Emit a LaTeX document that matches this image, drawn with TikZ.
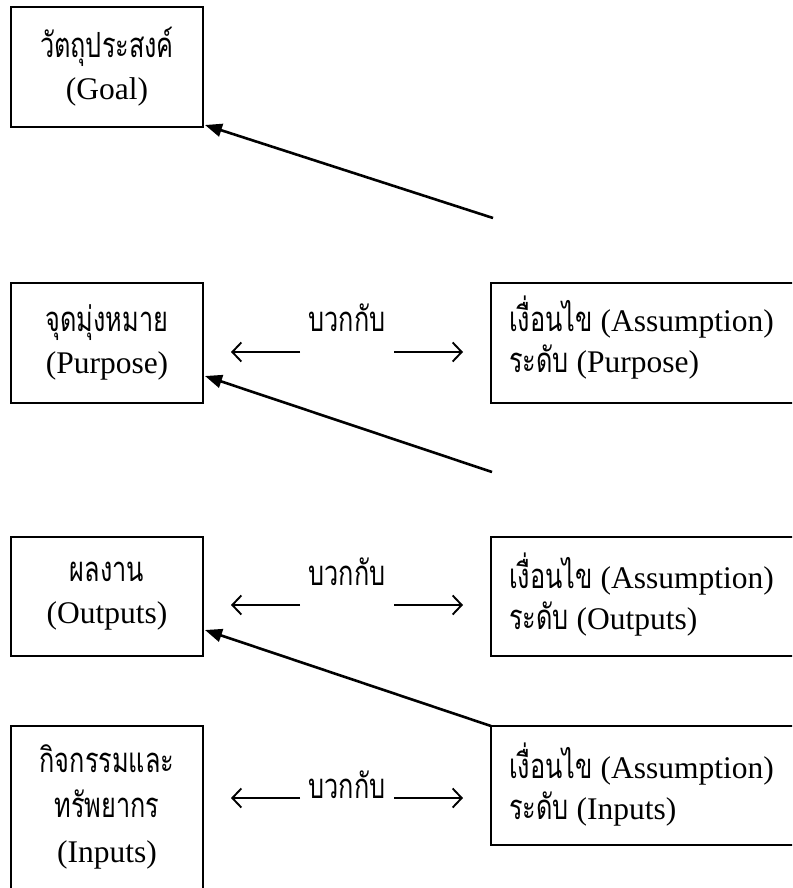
\documentclass[tikz,border=0pt]{standalone}
\usepackage{fontspec}
\setmainfont{Liberation Serif}
\newfontfamily\thai[Script=Thai,Scale=1.1,FakeStretch=0.73]{Loma}
\usetikzlibrary{arrows.meta}
\begin{document}
\begin{tikzpicture}[x=1pt,y=-1pt,
  box/.style={draw, line width=1.8pt, inner sep=0pt, outer sep=0pt, anchor=north west, minimum width=192pt},
  txt/.style={inner sep=0pt, font=\fontsize{31.5}{42}\selectfont},
  link/.style={line width=2.6pt, -{Triangle[length=17pt,width=13pt]}},
  side/.style={line width=1.9pt, -{Straight Barb[length=9pt,width=19pt,line width=1.9pt]}}]
\useasboundingbox (0,0) rectangle (792,888);
\clip (0,0) rectangle (792,888);
% left boxes
\node[box, minimum height=120pt] (goal) at (11,7) {};
\node[box, minimum height=120pt] (purpose) at (11,283) {};
\node[box, minimum height=119pt] (outputs) at (11,537) {};
\node[box, minimum height=200pt] (inputs) at (11,726) {};
% right boxes
\node[box, minimum width=330pt, minimum height=120pt] (apurpose) at (491,283) {};
\node[box, minimum width=330pt, minimum height=119pt] (aoutputs) at (491,537) {};
\node[box, minimum width=330pt, minimum height=119pt] (ainputs) at (491,726) {};
% texts
\node[txt, align=center] (goalt) at (107,67) {{\thai วัตถุประสงค์}\\(Goal)};
\node[txt, align=center] (purposet) at (107,342) {{\thai จุดมุ่งหมาย}\\(Purpose)};
\node[txt, align=center] (outputst) at (107,596) {{\thai ผลงาน}\\(Outputs)};
\node[txt, align=center, font=\fontsize{31.5}{45}\selectfont] (inputst) at (107,807) {{\thai กิจกรรมและ}\\{\thai ทรัพยากร}\\(Inputs)};
\node[txt, align=left, anchor=west, font=\fontsize{31.5}{41}\selectfont] (apurposet) at (509,338) {{\thai เงื่อนไข} (Assumption)\\{\thai ระดับ} (Purpose)};
\node[txt, align=left, anchor=west, font=\fontsize{31.5}{41}\selectfont] (aoutputst) at (509,595) {{\thai เงื่อนไข} (Assumption)\\{\thai ระดับ} (Outputs)};
\node[txt, align=left, anchor=west, font=\fontsize{31.5}{41}\selectfont] (ainputst) at (509,785) {{\thai เงื่อนไข} (Assumption)\\{\thai ระดับ} (Inputs)};
% labels
\node[txt] (l1) at (347,318) {\thai บวกกับ};
\node[txt] (l2) at (347,572) {\thai บวกกับ};
\node[txt] (l3) at (347,785) {\thai บวกกับ};
% side arrow coordinates
\coordinate (p1a) at (300,352); \coordinate (p1b) at (231,352);
\coordinate (p2a) at (394,352); \coordinate (p2b) at (463,352);
\coordinate (o1a) at (300,605); \coordinate (o1b) at (231,605);
\coordinate (o2a) at (394,605); \coordinate (o2b) at (463,605);
\coordinate (i1a) at (300,798); \coordinate (i1b) at (231,798);
\coordinate (i2a) at (394,798); \coordinate (i2b) at (463,798);
\draw[side] (p1a) -- (p1b);
\draw[side] (p2a) -- (p2b);
\draw[side] (o1a) -- (o1b);
\draw[side] (o2a) -- (o2b);
\draw[side] (i1a) -- (i1b);
\draw[side] (i2a) -- (i2b);
% diagonal links
\coordinate (g0) at (493,218);
\coordinate (q0) at (492,472);
\draw[link] (g0) -- ([shift={(2,-2)}]goal.south east);
\draw[link] (q0) -- ([shift={(2,-27)}]purpose.south east);
\draw[link] (ainputs.north west) -- ([shift={(2,-26)}]outputs.south east);
\end{tikzpicture}
\end{document}
